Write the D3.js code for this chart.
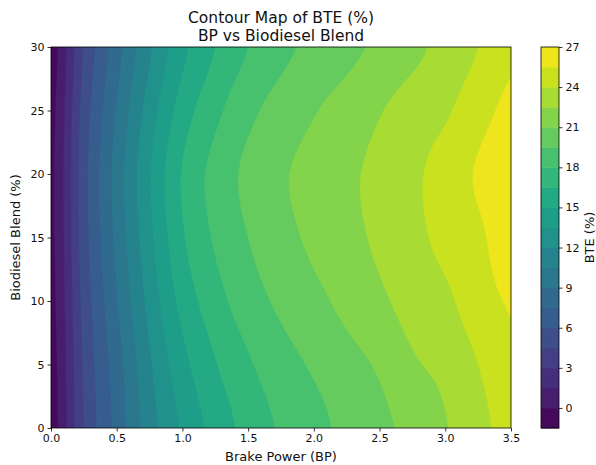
<!DOCTYPE html>
<html><head><meta charset="utf-8">
<script src="https://cdn.jsdelivr.net/npm/d3@7"></script>
<style>
body{margin:0;background:#fff}
text{font-family:"DejaVu Sans",sans-serif;fill:#111}
</style>
</head><body>
<svg id="c" width="596" height="465"></svg>
<script>
// ---- data ----
const bpValues    = [0, 0.25, 0.5, 0.75, 1.0, 1.25, 1.5, 1.75, 2.0, 2.25, 2.5, 2.75, 3.0, 3.25, 3.5];
const blendValues = [0, 5, 10, 15, 20, 25, 30];
const bteBlend0  = [-0.8, 4.5, 8.0, 11.3, 13.7, 15.6, 17.0, 18.2, 19.0, 19.9, 20.6, 21.5, 22.4, 23.5, 24.6];
const bteBlend5  = [-0.7, 4.7, 8.3, 11.8, 14.5, 16.4, 17.8, 18.9, 19.7, 20.5, 21.2, 22.3, 22.9, 24.0, 25.1];
const bteBlend10 = [-0.5, 5.0, 8.9, 12.5, 15.5, 17.4, 18.8, 19.8, 20.6, 21.4, 22.2, 23.1, 23.7, 24.8, 25.65];
const bteBlend15 = [-0.4, 5.3, 9.4, 13.1, 16.3, 18.2, 19.5, 20.5, 21.3, 22.0, 22.8, 23.6, 24.4, 25.2, 26.4];
const bteBlend20 = [-0.35, 5.4, 9.6, 13.4, 16.6, 18.5, 19.85, 20.8, 21.5, 22.2, 22.9, 23.7, 24.6, 25.66, 26.6];
const bteBlend25 = [-0.5, 5.1, 9.1, 12.7, 15.7, 17.6, 19.1, 20.1, 20.9, 21.6, 22.4, 23.2, 23.8, 24.9, 25.9];
const bteBlend30 = [-0.8, 4.6, 8.4, 11.8, 14.6, 16.5, 18.0, 19.1, 19.9, 20.6, 21.3, 22.1, 23.0, 24.0, 25.2];
const levels  = [-1.5, 0, 1.5, 3, 4.5, 6, 7.5, 9, 10.5, 12, 13.5, 15, 16.5, 18, 19.5, 21, 22.5, 24, 25.5, 27];
const xTicks  = [0, 0.5, 1.0, 1.5, 2.0, 2.5, 3.0, 3.5];
const yTicks  = [0, 5, 10, 15, 20, 25, 30];
const cbTicks = [0, 3, 6, 9, 12, 15, 18, 21, 24, 27];

const bteRows = [bteBlend0, bteBlend5, bteBlend10, bteBlend15, bteBlend20, bteBlend25, bteBlend30];

// ---- layout ----
const L = 51, R = 511, T = 47, B = 428;
const svg = d3.select("#c");
const x = d3.scaleLinear().domain([0, 3.5]).range([L, R]);
const y = d3.scaleLinear().domain([0, 30]).range([B, T]);
const vmin = levels[0], vmax = levels[levels.length - 1];
const bandColor = i => d3.interpolateViridis(((levels[i] + levels[i + 1]) / 2 - vmin) / (vmax - vmin));

// ---- smooth resampling of the read grid (Catmull-Rom) for contouring ----
function cr(p0, p1, p2, p3, t) {
  return p1 + 0.5 * t * (p2 - p0 + t * (2 * p0 - 5 * p1 + 4 * p2 - p3 + t * (3 * (p1 - p2) + p3 - p0)));
}
function sample1(arr, f) {
  const n = arr.length;
  let i = Math.min(Math.floor(f), n - 2); if (i < 0) i = 0;
  const t = f - i;
  return cr(arr[Math.max(i - 1, 0)], arr[i], arr[i + 1], arr[Math.min(i + 2, n - 1)], t);
}
const nx = 351, ny = 301;
const bpStep = 3.5 / (nx - 1), blStep = 30 / (ny - 1);
const values = new Float64Array(nx * ny);
const dBp = bpValues[1] - bpValues[0], dBl = blendValues[1] - blendValues[0];
for (let i = 0; i < nx; i++) {
  const fx = (i * bpStep - bpValues[0]) / dBp;
  const col = bteRows.map(r => sample1(r, fx));
  for (let j = 0; j < ny; j++) {
    const fy = (j * blStep - blendValues[0]) / dBl;
    values[j * nx + i] = sample1(col, fy);
  }
}

const contours = d3.contours().size([nx, ny]).thresholds(levels.slice(0, -1))(values);
const proj = d3.geoTransform({
  point(u, v) { this.stream.point(x((u - 0.5) * bpStep), y((v - 0.5) * blStep)); }
});
const path = d3.geoPath(proj);

svg.append("clipPath").attr("id", "clip")
  .append("rect").attr("x", L).attr("y", T).attr("width", R - L).attr("height", B - T);

svg.append("g").attr("clip-path", "url(#clip)")
  .selectAll("path").data(contours).join("path")
  .attr("d", path)
  .attr("fill", (d, i) => bandColor(i))
  .attr("stroke", (d, i) => bandColor(i))
  .attr("stroke-width", 0.4);

// frame
svg.append("rect").attr("x", L).attr("y", T).attr("width", R - L).attr("height", B - T)
  .attr("fill", "none").attr("stroke", "#000").attr("stroke-width", 0.8);

// axes
const xa = svg.append("g").attr("transform", `translate(0,${B})`)
  .call(d3.axisBottom(x).tickValues(xTicks).tickFormat(d3.format(".1f")).tickSize(3.5).tickSizeOuter(0).tickPadding(3));
const ya = svg.append("g").attr("transform", `translate(${L},0)`)
  .call(d3.axisLeft(y).tickValues(yTicks).tickFormat(d3.format("d")).tickSize(3.5).tickSizeOuter(0).tickPadding(3));
[xa, ya].forEach(g => {
  g.select(".domain").remove();
  g.selectAll("text").attr("font-size", 11).attr("font-family", "DejaVu Sans").attr("fill", "#111");
  g.selectAll("line").attr("stroke", "#000").attr("stroke-width", 0.8);
});

// colorbar
const CBL = 541, CBW = 18;
const cy = d3.scaleLinear().domain([vmin, vmax]).range([B, T]);
svg.append("g").selectAll("rect").data(d3.range(levels.length - 1)).join("rect")
  .attr("x", CBL).attr("width", CBW)
  .attr("y", i => cy(levels[i + 1]))
  .attr("height", i => cy(levels[i]) - cy(levels[i + 1]) + 0.5)
  .attr("fill", i => bandColor(i));
svg.append("rect").attr("x", CBL).attr("y", T).attr("width", CBW).attr("height", B - T)
  .attr("fill", "none").attr("stroke", "#000").attr("stroke-width", 0.8);
const ca = svg.append("g").attr("transform", `translate(${CBL + CBW},0)`)
  .call(d3.axisRight(cy).tickValues(cbTicks).tickFormat(d3.format("d")).tickSize(3.5).tickSizeOuter(0).tickPadding(3));
ca.select(".domain").remove();
ca.selectAll("text").attr("font-size", 11).attr("font-family", "DejaVu Sans").attr("fill", "#111");
ca.selectAll("line").attr("stroke", "#000").attr("stroke-width", 0.8);

// labels
svg.append("text").attr("x", (L + R) / 2).attr("y", 23).attr("text-anchor", "middle")
  .attr("font-size", 15.5).text("Contour Map of BTE (%)");
svg.append("text").attr("x", (L + R) / 2).attr("y", 41).attr("text-anchor", "middle")
  .attr("font-size", 15.5).text("BP vs Biodiesel Blend");
svg.append("text").attr("x", (L + R) / 2).attr("y", 461).attr("text-anchor", "middle")
  .attr("font-size", 13).text("Brake Power (BP)");
svg.append("text").attr("transform", `translate(20,${(T + B) / 2}) rotate(-90)`).attr("text-anchor", "middle")
  .attr("font-size", 13).text("Biodiesel Blend (%)");
svg.append("text").attr("transform", `translate(594,${(T + B) / 2}) rotate(-90)`).attr("text-anchor", "middle")
  .attr("font-size", 13).text("BTE (%)");
</script>
</body></html>
